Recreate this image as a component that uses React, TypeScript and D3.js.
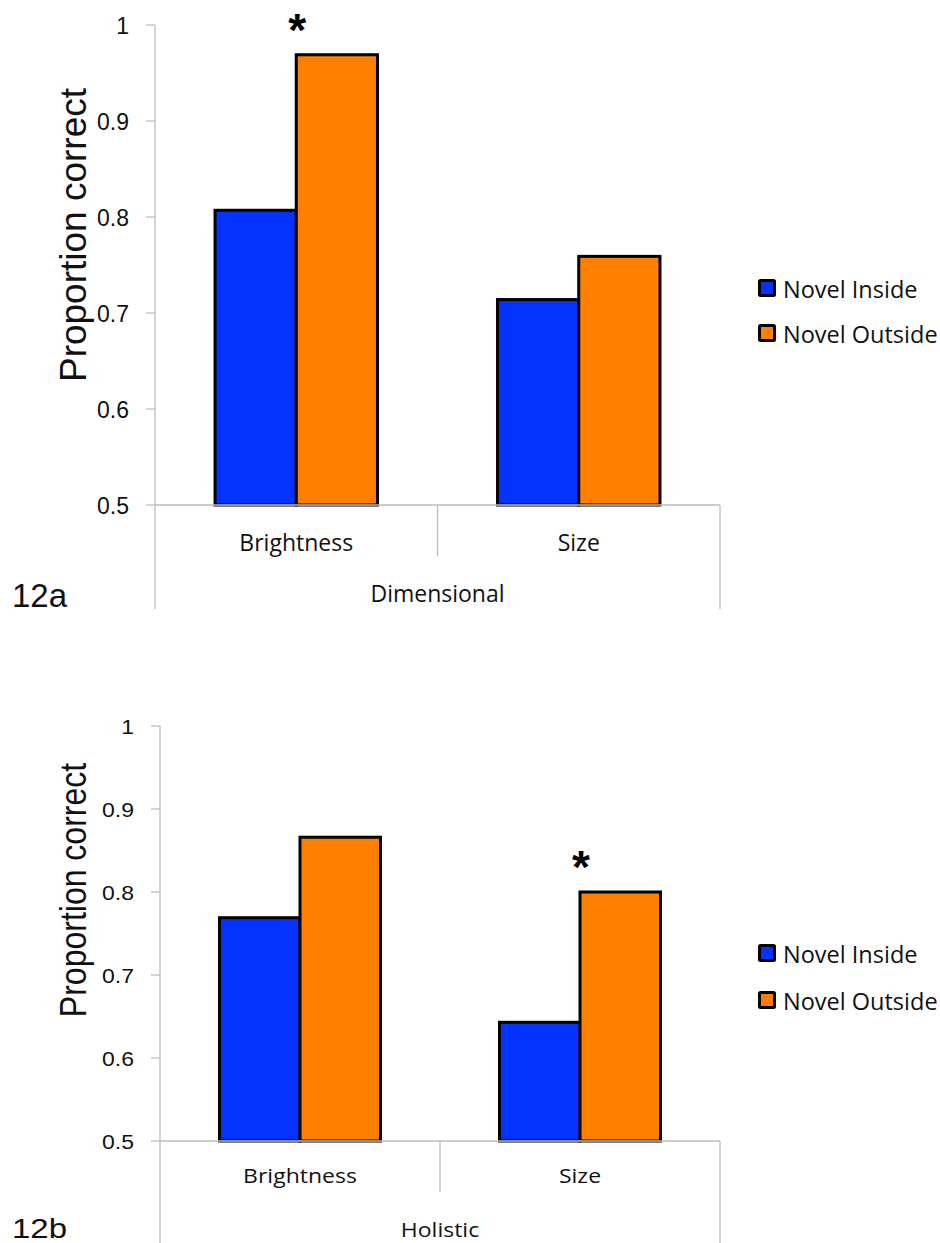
import React from "react";
import * as d3 from "d3";

const categories = ["Brightness", "Size"];
const seriesNames = ["Novel Inside", "Novel Outside"];
const seriesColors = ["#0433FF", "#FF7F00"];
const yTicks = [0.5, 0.6, 0.7, 0.8, 0.9, 1];

// panel 12a – Dimensional
const dimensionalInside = [0.807, 0.714];
const dimensionalOutside = [0.969, 0.759];
const dimensionalStars = ["Brightness"];

// panel 12b – Holistic
const holisticInside = [0.769, 0.643];
const holisticOutside = [0.866, 0.8];
const holisticStars = ["Size"];

type PanelProps = {
  top: number;
  bottom: number;
  left: number;
  right: number;
  sy: number; // vertical squeeze of this panel's lettering
  inside: number[];
  outside: number[];
  stars: string[];
  group: string;
  tag: string;
  tagY: number;
  catDy: number;
  groupDy: number;
  legendY: number;
  legendStep: number;
  yTitleY: number;
};

const sans = "'Liberation Sans', Arial, sans-serif";
const labelFont = "'Open Sans', Lato, sans-serif";
const axisGray = "#bdbdbd";

function Panel(p: PanelProps) {
  const y = d3.scaleLinear().domain([0.5, 1]).range([p.bottom, p.top]);
  const x = d3.scaleBand<string>().domain(categories).range([p.left, p.right]);
  const inner = d3
    .scaleBand<string>()
    .domain(seriesNames)
    .range([0, x.bandwidth() * 0.575])
    .padding(0);
  const offset = (x.bandwidth() - inner.range()[1]) / 2;
  const values = [p.inside, p.outside];
  const at = (tx: number, ty: number) => `translate(${tx},${ty}) scale(1,${p.sy})`;

  return (
    <g>
      {/* value axis */}
      <line x1={p.left} x2={p.left} y1={p.top} y2={p.bottom} stroke={axisGray} strokeWidth={1.3} />
      {yTicks.map((t) => (
        <g key={t}>
          <line x1={p.left - 9} x2={p.left} y1={y(t)} y2={y(t)} stroke={axisGray} strokeWidth={1.3} />
          <text
            transform={at(p.left - 26, y(t))}
            dy="0.38em"
            textAnchor="end"
            fontFamily={sans}
            fontSize={23}
            fill="#111"
          >
            {t === 1 ? "1" : d3.format(".1f")(t)}
          </text>
        </g>
      ))}
      <text
        transform={`${at(86, p.yTitleY)} rotate(-90)`}
        textAnchor="middle"
        fontFamily={sans}
        fontSize={37}
        fill="#111"
      >
        Proportion correct
      </text>

      {/* bars */}
      {categories.map((c, ci) =>
        seriesNames.map((s, si) => {
          const v = values[si][ci];
          const bx = (x(c) as number) + offset + (inner(s) as number);
          return (
            <rect
              key={c + s}
              x={bx}
              y={y(v)}
              width={inner.bandwidth()}
              height={y(0.5) - y(v)}
              fill={seriesColors[si]}
              stroke="#000"
              strokeWidth={3}
            />
          );
        })
      )}

      {/* category axis */}
      <line x1={p.left} x2={p.right} y1={p.bottom} y2={p.bottom} stroke={axisGray} strokeWidth={1.3} />
      <line x1={p.left} x2={p.left} y1={p.bottom} y2={p.bottom + 104} stroke={axisGray} strokeWidth={1.3} />
      <line x1={p.right} x2={p.right} y1={p.bottom} y2={p.bottom + 104} stroke={axisGray} strokeWidth={1.3} />
      {categories.slice(1).map((c) => (
        <line
          key={c}
          x1={x(c) as number}
          x2={x(c) as number}
          y1={p.bottom}
          y2={p.bottom + 51}
          stroke={axisGray}
          strokeWidth={1.3}
        />
      ))}
      {categories.map((c) => (
        <text
          key={c}
          transform={at((x(c) as number) + x.bandwidth() / 2, p.bottom + p.catDy)}
          textAnchor="middle"
          fontFamily={labelFont}
          fontSize={23}
          fill="#111"
        >
          {c}
        </text>
      ))}
      <text
        transform={at((p.left + p.right) / 2, p.bottom + p.groupDy)}
        textAnchor="middle"
        fontFamily={labelFont}
        fontSize={23}
        fill="#111"
      >
        {p.group}
      </text>

      {/* significance markers */}
      {p.stars.map((c) => {
        const ci = categories.indexOf(c);
        const hi = Math.max(p.inside[ci], p.outside[ci]);
        return (
          <text
            key={c}
            x={(x(c) as number) + x.bandwidth() / 2 + 1}
            y={y(hi) - 9}
            textAnchor="middle"
            fontFamily={sans}
            fontSize={46}
            fontWeight="bold"
            fill="#000"
          >
            *
          </text>
        );
      })}

      {/* panel tag */}
      <text transform={at(12, p.tagY)} fontFamily={sans} fontSize={33} fill="#111">
        {p.tag}
      </text>

      {/* legend */}
      {seriesNames.map((s, si) => (
        <g key={s} transform={`translate(758,${p.legendY + si * p.legendStep})`}>
          <rect x={1.5} y={1.5} width={15} height={15} fill={seriesColors[si]} stroke="#000" strokeWidth={3} rx={1} />
          <text x={25} y={19} fontFamily={labelFont} fontSize={23.5} fill="#111">
            {s}
          </text>
        </g>
      ))}
    </g>
  );
}

export default function App() {
  return (
    <svg width={940} height={1243} style={{ display: "block", position: "absolute", left: 0, top: 0 }}>
      <rect width={940} height={1243} fill="#fff" />
      <Panel
        top={25}
        bottom={505}
        left={155}
        right={720}
        sy={1}
        inside={dimensionalInside}
        outside={dimensionalOutside}
        stars={dimensionalStars}
        group="Dimensional"
        tag="12a"
        tagY={607}
        catDy={46}
        groupDy={97}
        legendY={279}
        legendStep={45}
        yTitleY={235}
      />
      <Panel
        top={726}
        bottom={1141}
        left={160}
        right={720}
        sy={0.865}
        inside={holisticInside}
        outside={holisticOutside}
        stars={holisticStars}
        group="Holistic"
        tag="12b"
        tagY={1238}
        catDy={42}
        groupDy={96}
        legendY={944}
        legendStep={47}
        yTitleY={890}
      />
    </svg>
  );
}
